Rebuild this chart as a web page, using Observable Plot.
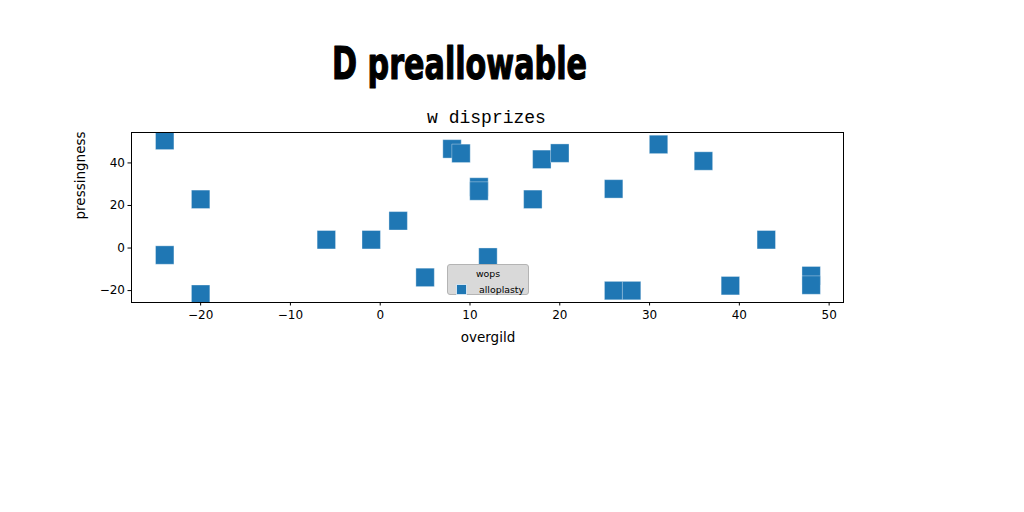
<!DOCTYPE html>
<html>
<head>
<meta charset="utf-8">
<script src="https://cdn.jsdelivr.net/npm/d3@7"></script>
<script src="https://cdn.jsdelivr.net/npm/@observablehq/plot@0.6"></script>
<style>
  html, body { margin: 0; padding: 0; background: #fff; }
  #wrap { position: relative; width: 1024px; height: 512px; overflow: hidden; }
  #legend {
    position: absolute; left: 447px; top: 264px; width: 82px; height: 31px;
    box-sizing: border-box; background: #d9d9d9; border: 1px solid #b4b4b4; border-radius: 3px;
    font-family: "DejaVu Sans", sans-serif; font-size: 9.4px; color: #000;
  }
  #legend .ttl { position: absolute; left: 0; width: 100%; top: 3px; text-align: center; line-height: 11px; }
  #legend .sw { position: absolute; left: 8px; top: 18.5px; width: 11px; height: 11px; box-sizing: border-box;
    background: #1f77b4; border: 1px solid #d2e3f0; }
  #legend .lab { position: absolute; left: 31px; top: 18.5px; line-height: 11px; white-space: nowrap; }
</style>
</head>
<body>
<div id="wrap"></div>
<script>
// ---- data ----
const titleText = "D preallowable";
const subtitleText = "w disprizes";
const xLabel = "overgild";
const yLabel = "pressingness";
const legendTitle = "wops";
const seriesName = "alloplasty";
const xValues = [-24, -20, -24, -20, -6, -1, 2, 5, 8, 9, 11, 11, 12, 17, 18, 20, 26, 31, 36, 43, 39, 48, 48, 26, 28];
const yValues = [50.6, 22.9, -3.3, -21.7, 3.9, 3.9, 12.8, -13.8, 46.6, 44.5, 28.7, 26.8, -4.3, 22.9, 41.7, 44.6, 27.8, 48.7, 40.9, 3.9, -17.7, -13.0, -17.4, -20.0, -20.0];
const xTicks = [-20, -10, 0, 10, 20, 30, 40, 50];
const yTicks = [-20, 0, 20, 40];

const points = xValues.map((x, i) => ({x, y: yValues[i], series: seriesName}));
const fmt = d => d3.format("d")(d).replace("-", "\u2212");

const chart = Plot.plot({
  width: 1024,
  height: 512,
  marginLeft: 131,
  marginRight: 181,
  marginTop: 132,
  marginBottom: 210,
  style: {background: "transparent", color: "#000", fontFamily: "DejaVu Sans, sans-serif"},
  x: {domain: [-27.7, 51.6], ticks: xTicks},
  y: {domain: [-25.6, 54.3], ticks: yTicks},
  marks: [
    Plot.dot(points, {x: "x", y: "y", symbol: "square", r: 10.4, fill: "#1f77b4",
      stroke: "#ffffff", strokeOpacity: 0.35, strokeWidth: 1, clip: "frame"}),
    Plot.frame({stroke: "#000", strokeWidth: 1}),
    Plot.axisX({ticks: xTicks, tickSize: 3.5, tickPadding: 4, fontSize: 12, label: null, tickFormat: fmt}),
    Plot.axisY({ticks: yTicks, tickSize: 3.5, tickPadding: 3, fontSize: 12, label: null, tickFormat: fmt}),
    Plot.text([xLabel], {text: d => d, frameAnchor: "bottom", dx: 0.5, dy: 39, lineAnchor: "bottom", fontSize: 13.5, fill: "#000"}),
    Plot.text([yLabel], {text: d => d, frameAnchor: "left", dx: -51, dy: 2, rotate: -90, lineAnchor: "middle", fontSize: 13.5, fill: "#000"}),
    Plot.text([subtitleText], {text: d => d, frameAnchor: "top", dx: -1, dy: -9.3, lineAnchor: "bottom",
      fontSize: 18, fontFamily: "Liberation Mono, DejaVu Sans Mono, monospace", fill: "#000"}),
    Plot.text([titleText], {text: d => d, frameAnchor: "top", dx: -28, dy: -53.7, lineAnchor: "bottom",
      fontSize: 45, fontWeight: "bold", fontFamily: "DejaVu Sans Condensed, DejaVu Sans, sans-serif",
      fill: "#000", stroke: "#000", strokeWidth: 1.2})
  ]
});

document.getElementById("wrap").appendChild(chart);

// stretch/squeeze the title to the reference width
d3.select(chart).selectAll("text").each(function () {
  if (this.textContent === titleText) {
    this.setAttribute("textLength", "255");
    this.setAttribute("lengthAdjust", "spacingAndGlyphs");
  }
});

// legend overlay
const lg = document.createElement("div");
lg.id = "legend";
lg.innerHTML = `<div class="ttl"></div><div class="sw"></div><div class="lab"></div>`;
lg.querySelector(".ttl").textContent = legendTitle;
lg.querySelector(".lab").textContent = seriesName;
document.getElementById("wrap").appendChild(lg);
</script>
</body>
</html>
